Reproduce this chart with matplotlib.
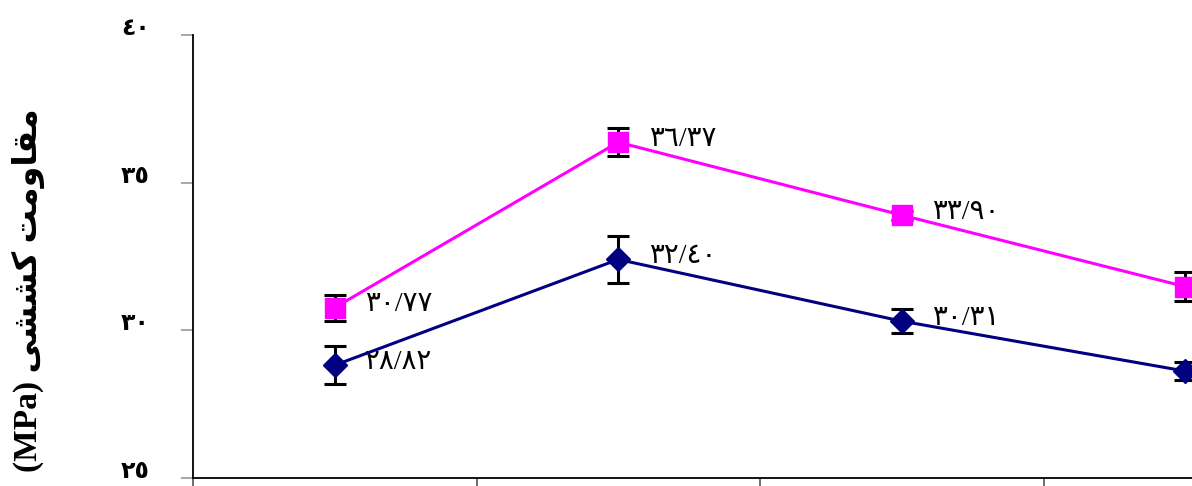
import numpy as np
import matplotlib
matplotlib.use('Agg')
import matplotlib.pyplot as plt

# data
groups = [0, 1, 2, 3]
pink_vals = [30.77, 36.37, 33.90, 31.48]
pink_err = [0.44, 0.47, 0.15, 0.50]
navy_vals = [28.82, 32.40, 30.31, 28.62]
navy_err = [0.65, 0.79, 0.40, 0.30]
pink_labels = ['٣٠/٧٧', '٣٦/٣٧', '٣٣/٩٠']
navy_labels = ['٢٨/٨٢', '٣٢/٤٠', '٣٠/٣١']
yticks = [25, 30, 35, 40]
ytick_labels = ['٢٥', '٣٠', '٣٥', '٤٠']

# y label in visual order with presentation forms (matplotlib has no shaping)
ylabel = '(MPa) ' + 'ﻰﺸﺸﻛ' + ' ' + 'ﺖﻣﻭﺎﻘﻣ'

fonts = ['Liberation Serif', 'DejaVu Sans']

fig = plt.figure(figsize=(11.92, 4.86), dpi=100)
ax = fig.add_axes([193/1192, 8/486, 1134/1192, 443/486])

ax.errorbar(groups, pink_vals, yerr=pink_err, color='#FF00FF', lw=2.2,
            marker='s', ms=14, mfc='#FF00FF', mec='#FF00FF',
            ecolor='black', elinewidth=2.2, capsize=8, capthick=2.2, zorder=3)
ax.errorbar(groups, navy_vals, yerr=navy_err, color='#000080', lw=2.2,
            marker='D', ms=12, mfc='#000080', mec='#000080',
            ecolor='black', elinewidth=2.2, capsize=8, capthick=2.2, zorder=3)

for i, t in enumerate(pink_labels):
    ax.annotate(t, (groups[i], pink_vals[i]), xytext=(22, 2),
                textcoords='offset points', va='center', ha='left',
                fontsize=20, family=fonts)
for i, t in enumerate(navy_labels):
    ax.annotate(t, (groups[i], navy_vals[i]), xytext=(22, 2),
                textcoords='offset points', va='center', ha='left',
                fontsize=20, family=fonts)

ax.set_xlim(-0.5, 3.5)
ax.set_ylim(25, 40)
ax.set_xticks([-0.5, 0.5, 1.5, 2.5])
ax.set_xticklabels([])
ax.set_yticks(yticks)
ax.set_yticklabels(ytick_labels, fontsize=17, fontweight='bold', family=fonts)
ax.tick_params(axis='y', length=9, width=1.2, color='#999999', pad=22)
ax.tick_params(axis='x', length=8, width=1.2, color='#555555')
for lbl in ax.get_yticklabels():
    lbl.set_verticalalignment('baseline')

ax.spines['top'].set_visible(False)
ax.spines['right'].set_visible(False)
ax.spines['left'].set_linewidth(1.3)
ax.spines['bottom'].set_linewidth(1.3)

fig.text(28/1192, 1 - 290/486, ylabel, rotation=90, ha='center', va='center',
         fontsize=24, fontweight='bold', family=fonts)

fig.savefig('out.png', dpi=100)
